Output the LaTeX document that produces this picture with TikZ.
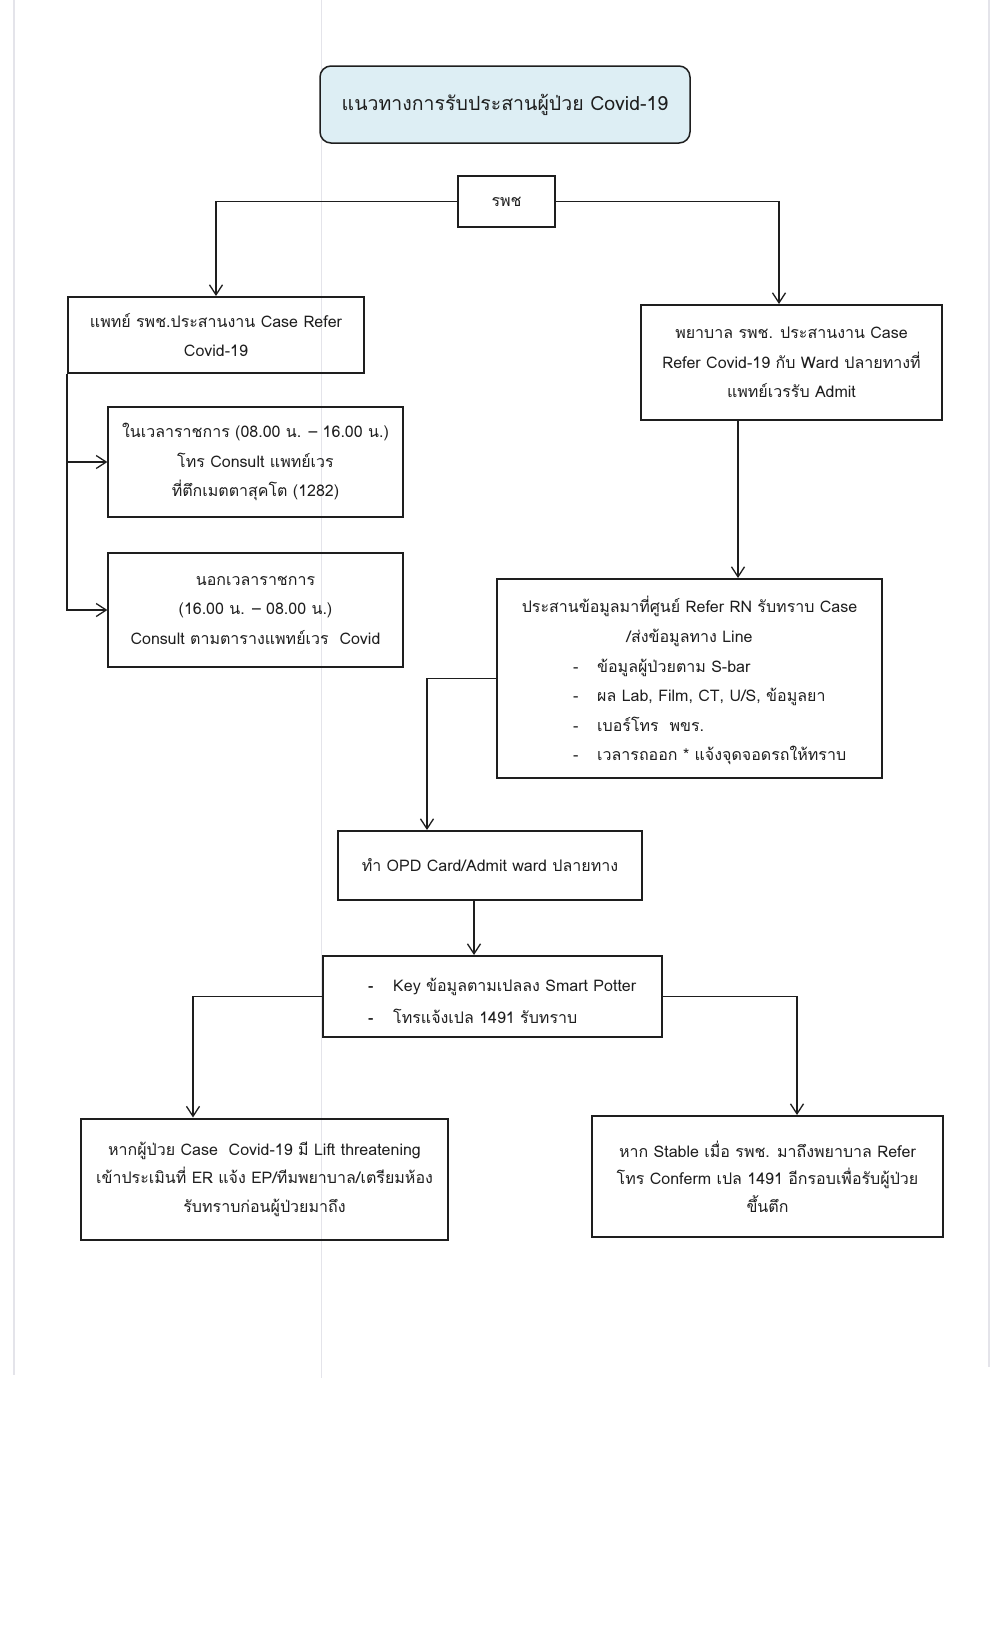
\documentclass[tikz,border=0pt]{standalone}
\usepackage{fontspec}
\setmainfont[Script=Thai]{Loma}
\usetikzlibrary{arrows.meta}
\definecolor{ink}{HTML}{1E1E1E}
\definecolor{titlefill}{HTML}{DDEEF4}
\definecolor{pageline}{HTML}{E4E4EA}
\begin{document}
\begin{tikzpicture}[x=1pt,y=-1pt,
  box/.style={draw=ink, line width=2pt, inner sep=0pt, align=center, text=ink,
    font=\fontsize{16}{29.5}\selectfont},
  thinbox/.style={box, line width=1.3pt},
  txt/.style={inner sep=0pt, text=ink, font=\fontsize{16}{29.5}\selectfont},
  conn/.style={draw=ink, line width=1.3pt},
  arr/.style={conn, -{Straight Barb[length=10pt,width=13pt,line width=1.3pt]}},
  pagel/.style={draw=pageline, line width=1.5pt}]
\useasboundingbox (0,0) rectangle (997,1642);
\fill[white] (0,0) rectangle (997,1642);
% faint scan edges
\draw[pagel] (14,0) -- (14,1375);
\draw[pagel, line width=1pt] (321,0) -- (321,1378);
\draw[pagel] (989,0) -- (989,1367);

% title
\node[draw=ink, line width=1.5pt, rounded corners=11pt, fill=titlefill, text=ink,
  minimum width=370pt, minimum height=77pt, font=\fontsize{19.5}{24}\selectfont]
  (title) at (505,104.5) {แนวทางการรับประสานผู้ป่วย Covid-19};

\node[box, minimum width=97pt, minimum height=51pt, font=\fontsize{16}{18}\selectfont]
  (rpc) at (506.5,201.5) {รพช};

\node[box, minimum width=296pt, minimum height=76pt] (doc) at (216,335)
  {แพทย์ รพช.ประสานงาน Case Refer\\Covid-19};

\node[box, minimum width=301pt, minimum height=115pt] (nurse) at (791.5,362.5)
  {พยาบาล รพช. ประสานงาน Case\\Refer Covid-19 กับ Ward ปลายทางที่\\แพทย์เวรรับ Admit};

\node[thinbox, minimum width=295pt, minimum height=110pt] (inh) at (255.5,462)
  {ในเวลาราชการ (08.00 น. – 16.00 น.)\\โทร Consult แพทย์เวร\\ที่ตึกเมตตาสุคโต (1282)};

\node[thinbox, minimum width=295pt, minimum height=114pt] (offh) at (255.5,610)
  {นอกเวลาราชการ\\(16.00 น. – 08.00 น.)\\Consult ตามตารางแพทย์เวร\ \ Covid};

\node[box, minimum width=385pt, minimum height=199pt] (info) at (689.5,678.5) {};
\node[txt, align=center] (infoA) at (689.5,621.5)
  {ประสานข้อมูลมาที่ศูนย์ Refer RN รับทราบ Case\\/ส่งข้อมูลทาง Line};
\node[txt, align=left, anchor=west] (infoB) at (573,712)
  {\makebox[24pt][l]{-}ข้อมูลผู้ป่วยตาม S-bar\\
   \makebox[24pt][l]{-}ผล Lab, Film, CT, U/S, ข้อมูลยา\\
   \makebox[24pt][l]{-}เบอร์โทร\ \ พขร.\\
   \makebox[24pt][l]{-}เวลารถออก * แจ้งจุดจอดรถให้ทราบ};

\node[box, minimum width=304pt, minimum height=69pt] (opd) at (490,865.5)
  {ทำ OPD Card/Admit ward ปลายทาง};

\node[box, minimum width=339pt, minimum height=81pt] (key) at (492.5,996.5) {};
\node[txt, align=left, anchor=west, font=\fontsize{16}{32}\selectfont] (keyT) at (368,1001)
  {\makebox[25pt][l]{\textbf{-}}Key ข้อมูลตามเปลลง Smart Potter\\
   \makebox[25pt][l]{\textbf{-}}โทรแจ้งเปล 1491 รับทราบ};

\node[box, minimum width=367pt, minimum height=121pt, font=\fontsize{16}{28.5}\selectfont] (lt) at (264.5,1179)
  {หากผู้ป่วย Case\ \ Covid-19 มี Lift threatening\\เข้าประเมินที่ ER แจ้ง EP/ทีมพยาบาล/เตรียมห้อง\\รับทราบก่อนผู้ป่วยมาถึง};

\node[box, minimum width=351pt, minimum height=121pt, font=\fontsize{16}{27.5}\selectfont] (st) at (767.5,1176.5)
  {หาก Stable เมื่อ รพช. มาถึงพยาบาล Refer\\โทร Conferm เปล 1491 อีกรอบเพื่อรับผู้ป่วย\\ขึ้นตึก};

% connectors
\draw[arr] (rpc.west) -| (doc.north);
\draw[arr] (rpc.east) -| ([xshift=-12.5pt]nurse.north);
\draw[arr] (doc.south west) |- (offh.west);
\draw[arr] (doc.south west |- inh.west) -- (inh.west);
\draw[arr] ([xshift=-53.5pt]nurse.south) -- ([xshift=-53.5pt]nurse.south |- info.north);
\draw[arr] (info.west) -| ([xshift=-63pt]opd.north);
\draw[arr] ([xshift=-16pt]opd.south) -- ([xshift=-16pt]opd.south |- key.north);
\draw[arr] (key.west) -| ([xshift=-71.5pt]lt.north);
\draw[arr] (key.east) -| ([xshift=29.5pt]st.north);
\end{tikzpicture}
\end{document}
